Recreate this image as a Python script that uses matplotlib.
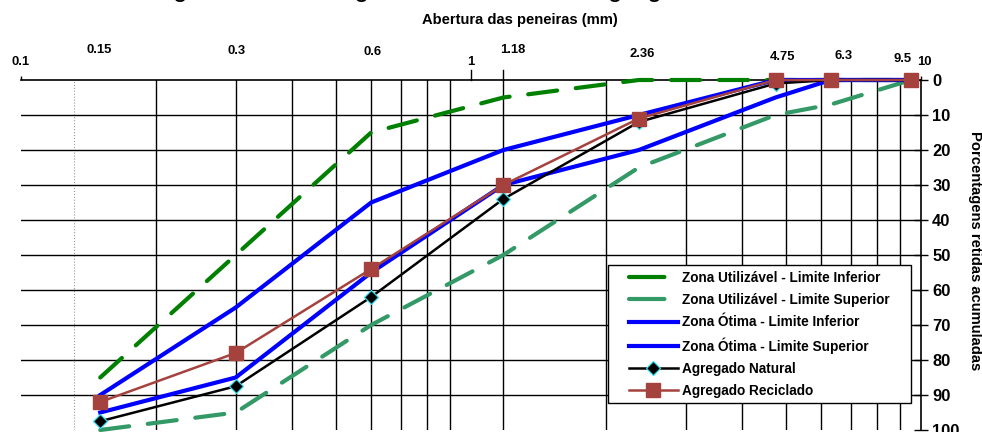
import matplotlib
matplotlib.use("Agg")
import matplotlib.pyplot as plt
from matplotlib import font_manager
from matplotlib.patches import Rectangle
from matplotlib.transforms import blended_transform_factory

# sieve openings (mm) and cumulative retained percentages
sieves = [0.15, 0.3, 0.6, 1.18, 2.36, 4.75, 6.3, 9.5]
util_inf = [85, 50, 15, 5, 0, 0, 0, 0]
util_sup = [100, 95, 70, 50, 25, 10, 7, 0]
otima_inf = [90, 65, 35, 20, 10, 0, 0, 0]
otima_sup = [95, 85, 55, 30, 20, 5, 0, 0]
natural = [97.5, 87.5, 62, 34, 12, 1, 0, 0]
reciclado = [92, 78, 54, 30, 11, 0, 0, 0]

top_labels = ["0.1", "0.15", "0.3", "0.6", "1", "1.18", "2.36", "4.75", "6.3", "9.5", "10"]
top_values = [0.1, 0.15, 0.3, 0.6, 1, 1.18, 2.36, 4.75, 6.3, 9.5, 10]
# label placement in pixels (dx, height above axis)
top_dx = [0, -1, 1, 1, 0, 9, 3, 7, 13, -8, 3]
top_dy = [18, 30, 29, 28, 18, 30, 26, 23, 24, 21, 18]

grid_x = [0.2, 0.3, 0.4, 0.5, 0.6, 0.7, 0.8, 0.9, 1.18, 2, 3, 4, 5, 6, 7, 8, 9]
y_ticks = list(range(0, 101, 10))

names = {f.name for f in font_manager.fontManager.ttflist}
if "Liberation Sans Narrow" in names:
    narrow = ["Liberation Sans Narrow", "DejaVu Sans"]
    k = 1.0
else:
    narrow = ["Liberation Sans", "DejaVu Sans"]
    k = 0.85

fig = plt.figure(figsize=(9.82, 4.32), dpi=100)
ax = fig.add_axes([21 / 982, 2 / 432, 900 / 982, 350 / 432])
ax.set_xscale("log")
ax.set_xlim(0.1, 10)
ax.set_ylim(100, 0)

# grid
for v in grid_x:
    ax.axvline(v, color="black", lw=1.0, zorder=1)
ax.axvline(0.131, color="#999999", lw=0.8, ls=":", zorder=1)
ax.plot([1.18, 1.18], [0, -3], color="black", lw=1.0, clip_on=False)
ax.plot([1, 1], [0, -3], color="black", lw=1.0, clip_on=False)
for t in y_ticks[1:-1]:
    ax.axhline(t, color="black", lw=1.0, zorder=1)

for s in ["left", "bottom"]:
    ax.spines[s].set_visible(False)
for s in ["top", "right"]:
    ax.spines[s].set_linewidth(1.2)

ax.xaxis.set_ticks_position("top")
ax.set_xticks([0.1, 10])
ax.set_xticks([], minor=True)
ax.set_xticklabels([])
ax.tick_params(axis="x", which="major", direction="out", length=3, width=1.0)

ax.yaxis.set_ticks_position("right")
ax.set_yticks(y_ticks)
ax.set_yticklabels([str(t) for t in y_ticks], fontfamily=narrow,
                   fontweight="bold", fontsize=14 * k)
ax.tick_params(axis="y", direction="inout", length=10, width=1.0, pad=3)

trans = blended_transform_factory(ax.transData, ax.transAxes)
for lab, v, dx, dy in zip(top_labels, top_values, top_dx, top_dy):
    ax.annotate(lab, xy=(v, 1), xycoords=trans, xytext=(dx * 0.72, dy * 0.72),
                textcoords="offset points", ha="center", va="center",
                fontfamily=narrow, fontweight="bold", fontsize=11 * k)

# series
ax.plot(sieves, util_inf, color="#008000", lw=3, dashes=(7, 4.5),
        dash_capstyle="round", label="Zona Utilizável - Limite Inferior",
        clip_on=False, zorder=3)
ax.plot(sieves, util_sup, color="#339966", lw=3, dashes=(7, 4.5),
        dash_capstyle="round", label="Zona Utilizável - Limite Superior",
        clip_on=False, zorder=3)
ax.plot(sieves, otima_inf, color="#0000FF", lw=3,
        label="Zona Ótima - Limite Inferior", clip_on=False, zorder=3)
ax.plot(sieves, otima_sup, color="#0000FF", lw=3,
        label="Zona Ótima - Limite Superior", clip_on=False, zorder=3)
ax.plot(sieves, natural, color="black", lw=1.8, marker="D", markersize=7,
        markerfacecolor="black", markeredgecolor="#33DDEE", markeredgewidth=0.9,
        label="Agregado Natural", clip_on=False, zorder=4)
ax.plot(sieves, reciclado, color="#A5423D", lw=1.8, marker="s", markersize=9.5,
        markerfacecolor="#A5423D", markeredgecolor="#A5423D",
        label="Agregado Reciclado", clip_on=False, zorder=5)

# legend box
x0, x1 = (608 - 21) / 900, (911 - 21) / 900
y0, y1 = (430 - 403) / 350, (430 - 265) / 350
ax.add_patch(Rectangle((x0, y0), x1 - x0, y1 - y0, transform=ax.transAxes,
                       facecolor="white", edgecolor="black", lw=1.0, zorder=6))
leg = ax.legend(loc="upper left", bbox_to_anchor=((629 - 21) / 900, (430 - 271) / 350),
                borderaxespad=0, borderpad=0, frameon=False, handlelength=3.6,
                handletextpad=0.3, labelspacing=0.6,
                prop={"family": narrow, "weight": "bold", "size": 11.5 * k})
leg.set_zorder(7)
# only one dash visible in the dashed handles
for ln in leg.get_lines()[:2]:
    ln.set_dashes((8.5, 12))

fig.text(520 / 982, (432 - 20) / 432, "Abertura das peneiras (mm)", ha="center",
         va="center", fontfamily=narrow, fontweight="bold", fontsize=12.5 * k)
fig.text(975 / 982, (432 - 251) / 432, "Porcentagens retidas acumuladas",
         rotation=270, ha="center", va="center", fontfamily=narrow,
         fontweight="bold", fontsize=12.5 * k)
# figure caption, cut off by the top edge in the source
fig.text(150 / 982, 1 + 3.5 / 432, "Figura 3 - Curva granulométrica dos agregados",
         ha="left", va="baseline", fontfamily=["Liberation Sans", "DejaVu Sans"],
         fontsize=19.5)

fig.savefig("out.png", dpi=100)
